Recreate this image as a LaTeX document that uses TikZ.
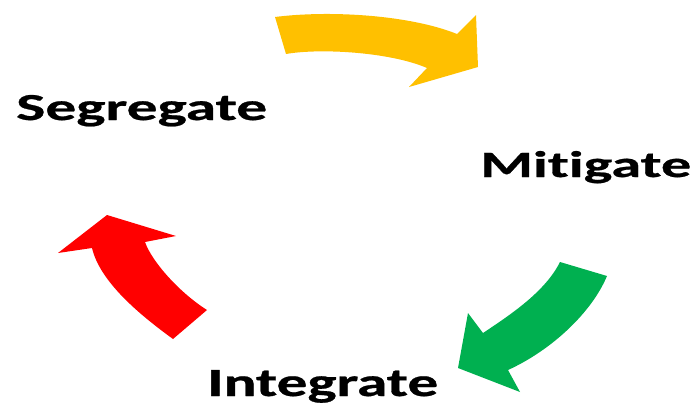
\documentclass[tikz,border=0pt]{standalone}
\usepackage{fontspec}
\setmainfont{Carlito}[Ligatures=NoCommon,BoldFeatures={FakeBold=0.6}]
\usepackage{graphicx}
\definecolor{cyellow}{HTML}{FFC000}
\definecolor{cgreen}{HTML}{00B050}
\definecolor{cred}{HTML}{FF0000}
\begin{document}
\begin{tikzpicture}[x=1pt,y=-1pt,
  lbl/.style={anchor=base west,inner sep=0pt,font=\bfseries\fontsize{40pt}{40pt}\selectfont}]
\useasboundingbox (0,0) rectangle (697,405);
% yellow arrow
\fill[cyellow] (275,17) -- (286,54)
  .. controls (320,48) and (390,52) .. (427,68)
  -- (409,87) -- (478,67) -- (476,15) -- (457,34)
  .. controls (410,15) and (330,10) .. (275,17) -- cycle;
% green arrow
\fill[cgreen] (560,262) -- (607,276)
  .. controls (592,312) and (552,350) .. (508,370)
  -- (520,392) -- (458,368) -- (468,313) -- (483,333)
  .. controls (510,315) and (545,292) .. (560,262) -- cycle;
% red arrow
\fill[cred] (207,310) -- (173,339)
  .. controls (140,315) and (100,282) .. (92,248)
  -- (58,253) -- (107,215) -- (176,236) -- (145,242)
  .. controls (152,262) and (180,293) .. (207,310) -- cycle;
% labels
\node[lbl] (seg) at (16,120) {\resizebox{251pt}{25pt}{Segregate}};
\node[lbl] (mit) at (480,177) {\resizebox{211pt}{26pt}{Mitigate}};
\node[lbl] (int) at (207,396) {\resizebox{231pt}{26pt}{Integrate}};
\end{tikzpicture}
\end{document}
